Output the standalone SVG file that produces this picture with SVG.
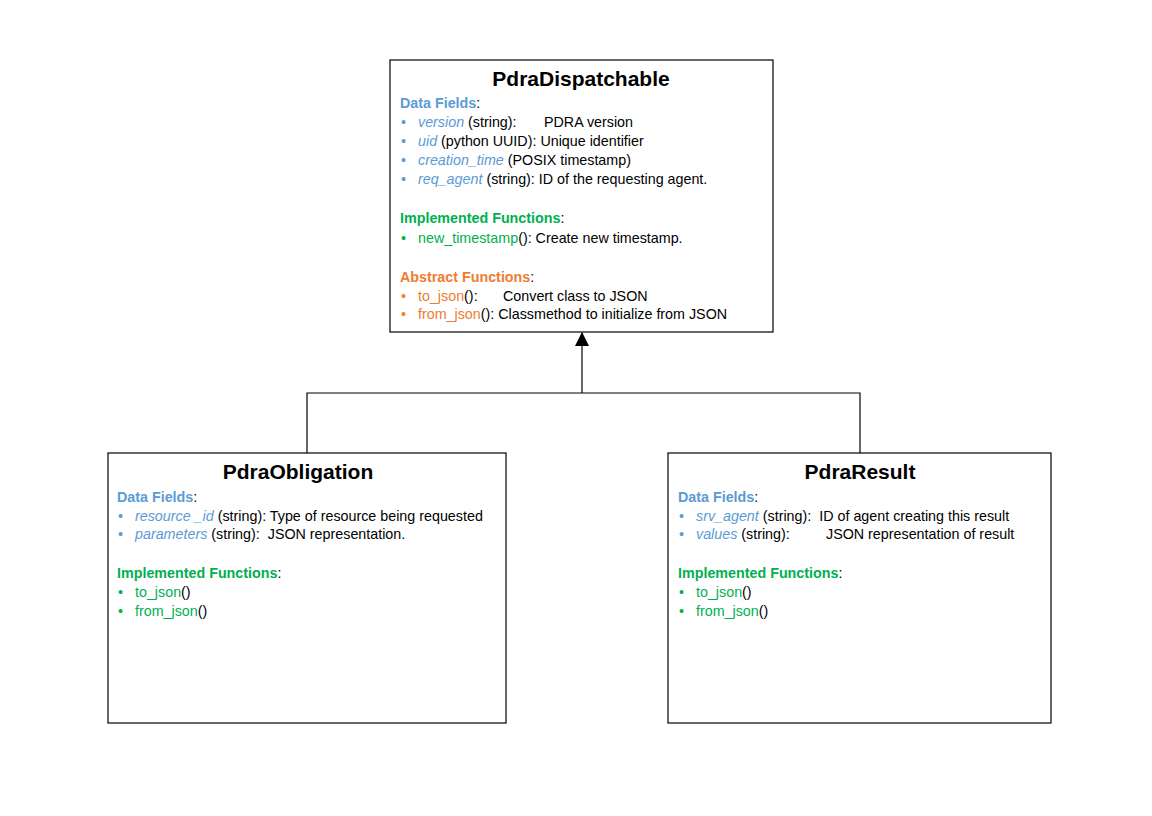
<svg xmlns="http://www.w3.org/2000/svg" width="1152" height="816" viewBox="0 0 1152 816">
<style>
text{font-family:"Liberation Sans",Arial,sans-serif;font-size:14.3px;fill:#000}
.title{font-size:21px;font-weight:bold;text-anchor:middle}
.box{fill:#fff;stroke:#000;stroke-width:1.2}
.b{fill:#5B9BD5}.g{fill:#00B050}.o{fill:#ED7D31}
.h{font-weight:bold}
.i{font-style:italic}
.conn{fill:none;stroke:#000;stroke-width:1.2}
</style>
<defs>
<marker id="tri" markerWidth="14" markerHeight="16" refX="13" refY="7" orient="auto" markerUnits="userSpaceOnUse">
<path d="M0,0 L14,7 L0,14 Z" fill="#000"/>
</marker>
</defs>
<rect width="1152" height="816" fill="#fff"/>
<g id="connectors">
<path class="conn" d="M307,453 V393 H860 V453"/>
<path class="conn" d="M582,393 V333" marker-end="url(#tri)"/>
</g>
<g id="PdraDispatchable">
<rect class="box" x="390" y="60" width="383" height="272"/>
<text class="title" x="581" y="86">PdraDispatchable</text>
<text x="400" y="108"><tspan class="b h">Data Fields</tspan>:</text>
<text x="401" y="127"><tspan class="b">•</tspan><tspan x="418" class="b i">version</tspan> (string):<tspan x="544">PDRA version</tspan></text>
<text x="401" y="146"><tspan class="b">•</tspan><tspan x="418" class="b i">uid</tspan> (python UUID): Unique identifier</text>
<text x="401" y="165"><tspan class="b">•</tspan><tspan x="418" class="b i">creation_time</tspan> (POSIX timestamp)</text>
<text x="401" y="184"><tspan class="b">•</tspan><tspan x="418" class="b i">req_agent</tspan> (string): ID of the requesting agent.</text>
<text x="400" y="223"><tspan class="g h">Implemented Functions</tspan>:</text>
<text x="401" y="243"><tspan class="g">•</tspan><tspan x="418" class="g">new_timestamp</tspan>(): Create new timestamp.</text>
<text x="400" y="282"><tspan class="o h">Abstract Functions</tspan>:</text>
<text x="401" y="301"><tspan class="o">•</tspan><tspan x="418" class="o">to_json</tspan>():<tspan x="503">Convert class to JSON</tspan></text>
<text x="401" y="319"><tspan class="o">•</tspan><tspan x="418" class="o">from_json</tspan>(): Classmethod to initialize from JSON</text>
</g>
<g id="PdraObligation">
<rect class="box" x="108" y="453" width="398" height="270"/>
<text class="title" x="298" y="479">PdraObligation</text>
<text x="117" y="502"><tspan class="b h">Data Fields</tspan>:</text>
<text x="118" y="521"><tspan class="b">•</tspan><tspan x="135" class="b i">resource _id</tspan> (string): Type of resource being requested</text>
<text x="118" y="539"><tspan class="b">•</tspan><tspan x="135" class="b i">parameters</tspan> (string):<tspan dx="8">JSON representation.</tspan></text>
<text x="117" y="578"><tspan class="g h">Implemented Functions</tspan>:</text>
<text x="118" y="597"><tspan class="g">•</tspan><tspan x="135" class="g">to_json</tspan>()</text>
<text x="118" y="616"><tspan class="g">•</tspan><tspan x="135" class="g">from_json</tspan>()</text>
</g>
<g id="PdraResult">
<rect class="box" x="668" y="453" width="383" height="270"/>
<text class="title" x="860" y="479">PdraResult</text>
<text x="678" y="502"><tspan class="b h">Data Fields</tspan>:</text>
<text x="679" y="521"><tspan class="b">•</tspan><tspan x="696" class="b i">srv_agent</tspan> (string):<tspan dx="8">ID of agent creating this result</tspan></text>
<text x="679" y="539"><tspan class="b">•</tspan><tspan x="696" class="b i">values</tspan> (string):<tspan x="826">JSON representation of result</tspan></text>
<text x="678" y="578"><tspan class="g h">Implemented Functions</tspan>:</text>
<text x="679" y="597"><tspan class="g">•</tspan><tspan x="696" class="g">to_json</tspan>()</text>
<text x="679" y="616"><tspan class="g">•</tspan><tspan x="696" class="g">from_json</tspan>()</text>
</g>
</svg>
